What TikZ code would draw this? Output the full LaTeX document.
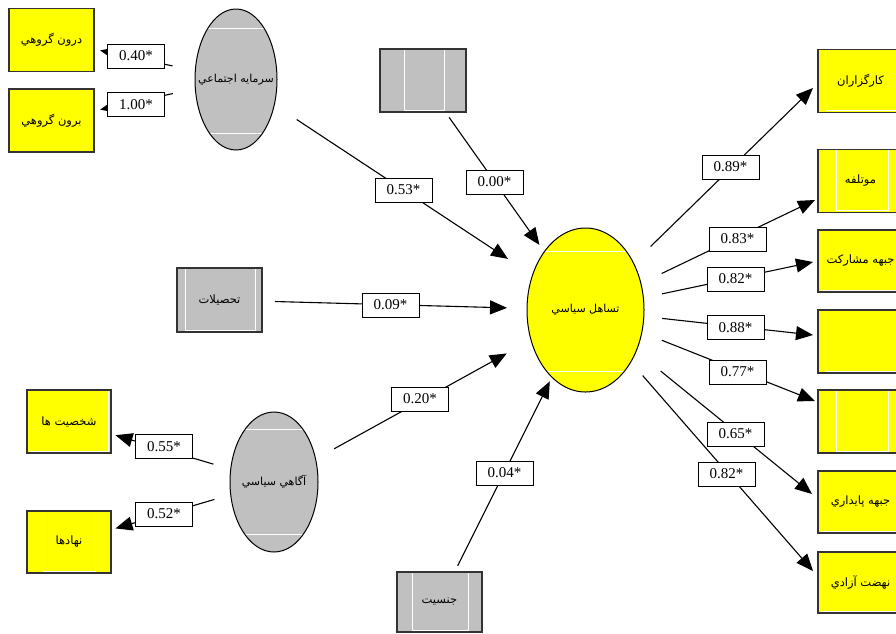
\documentclass[tikz,border=0pt]{standalone}
\usepackage{fontspec}
\setmainfont{Liberation Serif}
\newfontfamily\arabicfont[Script=Arabic]{DejaVu Sans}
\TeXXeTstate=1
\usetikzlibrary{arrows.meta,shapes.geometric}
\definecolor{grayfill}{HTML}{C0C0C0}
\definecolor{yel}{HTML}{FFFF00}
\newcommand{\rtltext}[1]{\makebox[0pt]{\beginR #1\endR}}
\begin{document}
\begin{tikzpicture}[x=1pt,y=-1pt,
  box/.style={draw=black!80, line width=1.2pt, minimum width=85pt, minimum height=63pt,
    inner sep=0pt, outer sep=0pt, font=\arabicfont\fontsize{11.5}{13}\selectfont},
  ybox/.style={box, fill=yel},
  gbox/.style={box, fill=grayfill},
  ell/.style={ellipse, draw=black, line width=1pt, inner sep=0pt, outer sep=0pt,
    font=\arabicfont\fontsize{11}{13}\selectfont},
  wl/.style 2 args={path picture={\draw[white,line width=0.8pt]
      ([xshift=#1]path picture bounding box.north west) |-
      ([shift={(-#2,2pt)}]path picture bounding box.south east) --
      ([xshift=-#2]path picture bounding box.north east);}},
  ewl/.style 2 args={path picture={\draw[white,line width=0.8pt]
      ([yshift=-#1]path picture bounding box.north west) --
      ([yshift=-#1]path picture bounding box.north east);
      \draw[white,line width=0.8pt]
      ([yshift=#2]path picture bounding box.south west) --
      ([yshift=#2]path picture bounding box.south east);}},
  lab/.style={draw=black, line width=1pt, fill=white, minimum width=57pt, minimum height=24pt,
    inner sep=0pt, outer sep=0pt, font=\fontsize{15}{16}\selectfont},
  arr/.style={line width=1.1pt, -{Triangle[length=17pt,width=14pt]}}
]
\useasboundingbox (0,0) rectangle (896,633);

% left top
\node[ybox] (dg) at (51.5,40) {\rtltext{درون گروهي}};
\node[ybox] (bg) at (51.5,120.5) {\rtltext{برون گروهي}};
\node[ell, fill=grayfill, minimum width=82pt, minimum height=141pt, ewl={19pt}{17pt}] (sa) at (236,79.5) {\rtltext{سرمايه اجتماعي}};
\node[gbox, minimum width=86pt, wl={24pt}{22pt}] (gb) at (423,80.5) {};
\node[gbox, minimum height=64pt, wl={8pt}{7pt}] (th) at (219.5,300) {\rtltext{تحصيلات}};
% left bottom
\node[ybox, minimum width=84pt, wl={2pt}{3pt}] (sh) at (69,421.5) {\rtltext{شخصيت ها}};
\node[ybox, minimum width=84pt, minimum height=62pt, wl={16pt}{16pt}] (nh) at (69,542) {\rtltext{نهادها}};
\node[ell, fill=grayfill, minimum width=88pt, minimum height=140pt, ewl={17pt}{18pt}] (as) at (274,482) {\rtltext{آگاهي سياسي}};
\node[gbox, minimum height=60pt, wl={15pt}{14pt}] (js) at (439.5,602) {\rtltext{جنسيت}};
% centre
\node[ell, fill=yel, minimum width=117pt, minimum height=164pt, ewl={23pt}{21pt}] (tas) at (585.5,310) {\rtltext{تساهل سياسي}};
% right
\node[ybox, wl={7pt}{7pt}] (r1) at (860.5,81) {\rtltext{کارگزاران}};
\node[ybox, wl={18pt}{15pt}] (r2) at (860.5,181) {\rtltext{موتلفه}};
\node[ybox, minimum height=62pt, wl={3pt}{3pt}] (r3) at (860.5,261) {\rtltext{جبهه مشارکت}};
\node[ybox, wl={7pt}{7pt}] (r4) at (860.5,341.5) {};
\node[ybox, wl={18pt}{15pt}] (r5) at (860.5,421.5) {};
\node[ybox, minimum height=62pt, wl={3pt}{3pt}] (r6) at (860.5,502) {\rtltext{جبهه پايداري}};
\node[ybox, minimum height=61pt, wl={3pt}{3pt}] (r7) at (860.5,582.5) {\rtltext{نهضت آزادي}};

% connectors
\draw[arr, shorten <=64.9pt, shorten >=49.7pt] (sa.center) -- (dg.center);
\draw[arr, shorten <=64.6pt, shorten >=49.8pt] (sa.center) -- (bg.center);
\draw[arr, shorten <=72.7pt, shorten >=92.8pt] (sa.center) -- (tas.center);
\draw[arr, shorten <=45.2pt, shorten >=79.7pt] (gb.center) -- (tas.center);
\draw[arr, shorten <=55.5pt, shorten >=78.5pt] (th.center) -- (tas.center);
\draw[arr, shorten <=68.6pt, shorten >=89.9pt] (as.center) -- (tas.center);
\draw[arr, shorten <=40.5pt, shorten >=79.8pt] (js.center) -- (tas.center);
\draw[arr, shorten <=63.2pt, shorten >=48.5pt] (as.center) -- (sh.center);
\draw[arr, shorten <=62.1pt, shorten >=48.4pt] (as.center) -- (nh.center);
\draw[arr, shorten <=90.9pt] (tas.center) -- ([shift={(-5,7)}]r1.west);
\draw[arr, shorten <=84.5pt] (tas.center) -- ([shift={(-3,19)}]r2.west);
\draw[arr, shorten <=78.2pt] (tas.center) -- ([shift={(-5,1)}]r3.west);
\draw[arr, shorten <=77.0pt] (tas.center) -- ([shift={(-5,-6.5)}]r4.west);
\draw[arr, shorten <=82.2pt] (tas.center) -- ([shift={(-3,-20.5)}]r5.west);
\draw[arr, shorten <=96.9pt] (tas.center) -- ([shift={(-6,-8)}]r6.west);
\draw[arr, shorten <=87.0pt] (tas.center) -- ([shift={(-5,-11.5)}]r7.west);

% labels
\node[lab] (l40) at (136,56) {0.40*};
\node[lab] (l100) at (136,104.5) {1.00*};
\node[lab] (l53) at (403.5,190) {0.53*};
\node[lab] (l00) at (494.5,182) {0.00*};
\node[lab] (l09) at (390.5,305) {0.09*};
\node[lab] (l20) at (420,399) {0.20*};
\node[lab] (l04) at (504.5,473) {0.04*};
\node[lab] (l55) at (164,446.5) {0.55*};
\node[lab] (l52) at (164,514) {0.52*};
\node[lab] (l89) at (730.5,167) {0.89*};
\node[lab] (l83) at (737.5,239) {0.83*};
\node[lab] (l82a) at (735.5,279) {0.82*};
\node[lab] (l88) at (735.5,327.5) {0.88*};
\node[lab] (l77) at (737.5,372) {0.77*};
\node[lab] (l65) at (735.5,434) {0.65*};
\node[lab] (l82b) at (726.5,474) {0.82*};
\end{tikzpicture}
\end{document}
